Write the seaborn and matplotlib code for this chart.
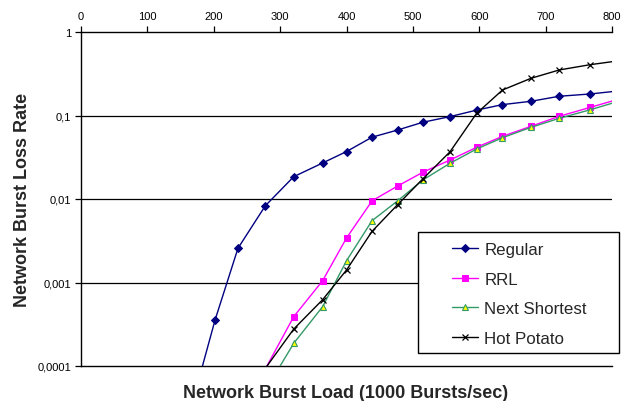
import numpy as np
import pandas as pd
import matplotlib
matplotlib.use("Agg")
import matplotlib.pyplot as plt
import matplotlib.patches as mpatches
import seaborn as sns
from matplotlib.ticker import FixedLocator, FixedFormatter, NullLocator

# ---- data ----
x_regular = [165, 202, 236.5, 277.7, 320.5, 364, 400, 438.5, 477, 515, 556, 596, 635, 678, 720.5, 767, 810]
y_regular = [3.0e-5, 3.56e-4, 2.57e-3, 8.3e-3, 0.0185, 0.027, 0.037, 0.055, 0.067, 0.083, 0.097,
             0.116, 0.135, 0.148, 0.170, 0.181, 0.197]

x_rrl = [236.5, 320.5, 364, 400, 438.5, 477, 515, 556, 596, 635, 678, 720.5, 767, 810]
y_rrl = [2.3e-5, 3.9e-4, 1.05e-3, 3.41e-3, 9.5e-3, 0.0143, 0.0209, 0.0293, 0.0416, 0.0563,
         0.0743, 0.0978, 0.125, 0.157]

x_next = [236.5, 320.5, 364, 400, 438.5, 477, 515, 556, 596, 635, 678, 720.5, 767, 810]
y_next = [1.44e-5, 1.87e-4, 5.13e-4, 1.82e-3, 5.5e-3, 9.5e-3, 0.0169, 0.0268, 0.0397, 0.0542,
          0.0722, 0.0925, 0.117, 0.148]

x_hot = [236.5, 320.5, 364, 400, 438.5, 477, 515, 556, 596, 635, 678, 720.5, 767, 810]
y_hot = [3.3e-5, 2.77e-4, 6.22e-4, 1.41e-3, 4.1e-3, 8.55e-3, 0.0174, 0.0368, 0.106, 0.202,
         0.279, 0.351, 0.406, 0.452]

x_ticks = [0, 100, 200, 300, 400, 500, 600, 700, 800]
y_ticks = [1e-4, 1e-3, 1e-2, 1e-1, 1]
y_tick_labels = ["0,0001", "0,001", "0,01", "0,1", "1"]

series_names = ["Regular", "RRL", "Next Shortest", "Hot Potato"]

# ---- style ----
sns.set_style("white")
plt.rcParams["font.family"] = ["Liberation Sans", "DejaVu Sans"]

W, H = 628, 402
fig = plt.figure(figsize=(W / 100, H / 100), dpi=100)
ax = fig.add_axes([81 / W, 1 - 367 / H, (612 - 81) / W, (367 - 33) / H])

styles = {
    "Regular": dict(color="#000080", marker="D", markersize=3.8, markerfacecolor="#000080",
                    markeredgecolor="#000080"),
    "RRL": dict(color="#FF00FF", marker="s", markersize=4.3, markerfacecolor="#FF00FF",
                markeredgecolor="#FF00FF"),
    "Next Shortest": dict(color="#339966", marker="^", markersize=4.8, markerfacecolor="#FFFF00",
                          markeredgecolor="#339966", markeredgewidth=0.8),
    "Hot Potato": dict(color="#000000", marker="x", markersize=5, markeredgecolor="#000000",
                       markeredgewidth=0.9),
}
data = {
    "Regular": (x_regular, y_regular),
    "RRL": (x_rrl, y_rrl),
    "Next Shortest": (x_next, y_next),
    "Hot Potato": (x_hot, y_hot),
}

ax.set_yscale("log")
for name in series_names:
    xs, ys = data[name]
    sns.lineplot(x=xs, y=ys, ax=ax, label=name, linewidth=1.0, zorder=3, **styles[name])

ax.set_xlim(0, 800)
ax.set_ylim(1e-4, 1)

# gridlines at decades
for yv in [1e-3, 1e-2, 1e-1]:
    ax.axhline(yv, color="#000000", lw=0.9, zorder=1)

ax.yaxis.set_major_locator(FixedLocator(y_ticks))
ax.yaxis.set_major_formatter(FixedFormatter(y_tick_labels))
ax.yaxis.set_minor_locator(NullLocator())
ax.xaxis.set_major_locator(FixedLocator(x_ticks))
ax.xaxis.tick_top()
ax.tick_params(axis="x", which="major", direction="out", length=4, width=0.9, labelsize=8,
               pad=4, top=True, bottom=False, colors="black")
ax.tick_params(axis="y", which="major", direction="out", length=4, width=0.9, labelsize=8,
               pad=3, left=True, colors="black")

for side in ["top", "left", "bottom"]:
    ax.spines[side].set_visible(True)
    ax.spines[side].set_color("black")
    ax.spines[side].set_linewidth(1.0)
ax.spines["right"].set_visible(False)

ax.set_xlabel("")
ax.set_ylabel("")
fig.text(346 / W, 1 - 398 / H, "Network Burst Load (1000 Bursts/sec)", ha="center",
         va="baseline", fontsize=13, fontweight="bold")
fig.text(23 / W, 1 - 200 / H, "Network Burst Loss Rate", ha="center", va="center",
         rotation=90, fontsize=13, fontweight="bold")

# legend: white framed box, then entries on top
handles, labels = ax.get_legend_handles_labels()
ax.get_legend().remove()
box = mpatches.Rectangle((418 / W, 1 - 354 / H), (619 - 418) / W, (354 - 233) / H,
                         transform=fig.transFigure, facecolor="white", edgecolor="black",
                         linewidth=1.0, zorder=4)
fig.patches.append(box)
leg = fig.legend(handles, labels, loc="upper left", bbox_to_anchor=(452 / W, 1 - 243 / H),
                 bbox_transform=fig.transFigure, frameon=False, fontsize=12.2,
                 handlelength=1.55, handletextpad=0.35, labelspacing=0.86,
                 borderpad=0, borderaxespad=0)
leg.set_zorder(5)

fig.savefig("out.png", dpi=100)
